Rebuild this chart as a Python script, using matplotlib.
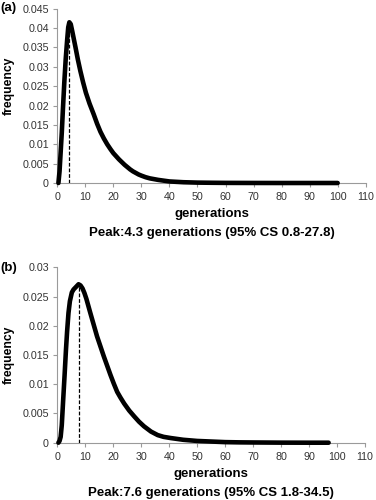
import matplotlib
matplotlib.use("Agg")
import matplotlib.pyplot as plt
from matplotlib.ticker import MultipleLocator, FuncFormatter

plt.rcParams['font.family'] = ['Liberation Sans', 'DejaVu Sans']

# Panel (a)
gen_a = [0.4, 0.8, 1.2, 1.6, 2.0, 2.5, 3.0, 3.5, 3.9, 4.3, 4.8, 5.3, 5.8, 6.5, 7.3,
         8.2, 9.2, 10.2, 11.5, 13, 14.2, 15.4, 16.6, 17.8, 19, 20, 21, 22, 23, 24,
         25, 26, 27, 28, 29, 30, 31.5, 33, 34.5, 36, 38, 40, 42.5, 45, 50, 55, 60,
         70, 80, 90, 100]
freq_a = [0, 0.003, 0.008, 0.013, 0.019, 0.026, 0.032, 0.0368, 0.0402, 0.0415, 0.0410,
          0.0393, 0.0375, 0.035, 0.032, 0.029, 0.026, 0.0233, 0.0205, 0.0177, 0.0153,
          0.0132, 0.0115, 0.0100, 0.0087, 0.0077, 0.0069, 0.0061, 0.0054, 0.0047,
          0.0041, 0.0035, 0.0030, 0.0026, 0.0022, 0.0019, 0.0015, 0.0012, 0.0010,
          0.0008, 0.0006, 0.0004, 0.0003, 0.0002, 0.0001, 0.00006, 0.00003, 0.00001,
          0.0, 0.0, 0.0]
peak_a = 4.3
peak_a_freq = 0.0415

# Panel (b)
gen_b = [0.4, 0.8, 1.2, 1.6, 2.1, 2.6, 3.1, 3.5, 4.0, 4.5, 5.2, 5.8, 6.4, 7.0, 7.6,
         8.3, 9.0, 9.7, 10.4, 11.1, 11.8, 13, 14.2, 15.4, 16.6, 17.8, 19, 20.2, 21.4,
         22.6, 23.9, 25.7, 27.5, 29.2, 31, 33.5, 35.9, 38, 40.5, 45, 50, 55, 60, 65,
         70, 80, 90, 97]
freq_b = [0, 0.0003, 0.001, 0.003, 0.0073, 0.0115, 0.0159, 0.019, 0.0222, 0.0242,
          0.0257, 0.0262, 0.0265, 0.0268, 0.0271, 0.0269, 0.0264, 0.0256, 0.0246,
          0.0234, 0.0222, 0.0202, 0.0182, 0.0165, 0.0148, 0.0132, 0.0116, 0.0101,
          0.0087, 0.0077, 0.0067, 0.0055, 0.0045, 0.0036, 0.0028, 0.0019, 0.0013,
          0.0010, 0.0008, 0.0005, 0.0003, 0.0002, 0.0001, 0.00006, 0.00004, 0.00001,
          0.0, 0.0]
peak_b = 7.6
peak_b_freq = 0.0271

W, H = 376, 500
fig = plt.figure(figsize=(W / 100, H / 100), dpi=100)

def make_ax(left, right, top, bottom):
    return fig.add_axes([left / W, 1 - bottom / H, (right - left) / W, (bottom - top) / H])

ax_a = make_ax(57.3, 365.7, 8.7, 183.0)
ax_b = make_ax(57.3, 365.0, 267.3, 442.7)

def fmt_y(v, pos):
    if abs(v) < 1e-12:
        return '0'
    return ('%.3f' % v).rstrip('0')

def style(ax, ymax, ystep):
    ax.set_xlim(0, 110)
    ax.set_ylim(0, ymax)
    ax.xaxis.set_major_locator(MultipleLocator(10))
    ax.yaxis.set_major_locator(MultipleLocator(ystep))
    ax.yaxis.set_major_formatter(FuncFormatter(fmt_y))
    for s in ['top', 'right']:
        ax.spines[s].set_visible(False)
    for s in ['left', 'bottom']:
        ax.spines[s].set_color('#9a9a9a')
        ax.spines[s].set_linewidth(0.8)
    ax.tick_params(axis='both', direction='out', length=3, width=0.8, color='#9a9a9a',
                   labelsize=7.7, labelcolor='#333333')
    ax.tick_params(axis='x', pad=3.5)
    ax.tick_params(axis='y', pad=3)

style(ax_a, 0.045, 0.005)
style(ax_b, 0.03, 0.005)

for ax, gx, fy, px, pf in [(ax_a, gen_a, freq_a, peak_a, peak_a_freq),
                           (ax_b, gen_b, freq_b, peak_b, peak_b_freq)]:
    ax.plot(gx, fy, color='black', lw=3.3, solid_capstyle='round',
            solid_joinstyle='round', clip_on=False, zorder=3)
    ax.plot([px, px], [0, pf], color='black', lw=0.9, ls=(0, (3, 1.5)), zorder=4)

cx_a = 0.5 * (57.3 + 365.7) / W
cx_b = 0.5 * (57.3 + 365.0) / W
fig.text(8.5 / W, 1 - 86 / H, 'frequency', rotation=90, ha='center', va='center',
         fontsize=8.7, fontweight='bold')
fig.text(8.5 / W, 1 - 355 / H, 'frequency', rotation=90, ha='center', va='center',
         fontsize=8.7, fontweight='bold')
fig.text(cx_a, 1 - 214.5 / H, 'generations', ha='center', va='center', fontsize=9.5, fontweight='bold')
fig.text(cx_b, 1 - 474.5 / H, 'generations', ha='center', va='center', fontsize=9.5, fontweight='bold')
fig.text(cx_a, 1 - 233 / H, 'Peak:4.3 generations (95% CS 0.8-27.8)',
         ha='center', va='center', fontsize=9.5, fontweight='bold')
fig.text(cx_b, 1 - 493 / H, 'Peak:7.6 generations (95% CS 1.8-34.5)',
         ha='center', va='center', fontsize=9.5, fontweight='bold')
fig.text(0 / W, 1 - 8 / H, '(a)', ha='left', va='center', fontsize=9.5, fontweight='bold')
fig.text(0 / W, 1 - 268 / H, '(b)', ha='left', va='center', fontsize=9.5, fontweight='bold')

fig.savefig('out.png', dpi=100)
